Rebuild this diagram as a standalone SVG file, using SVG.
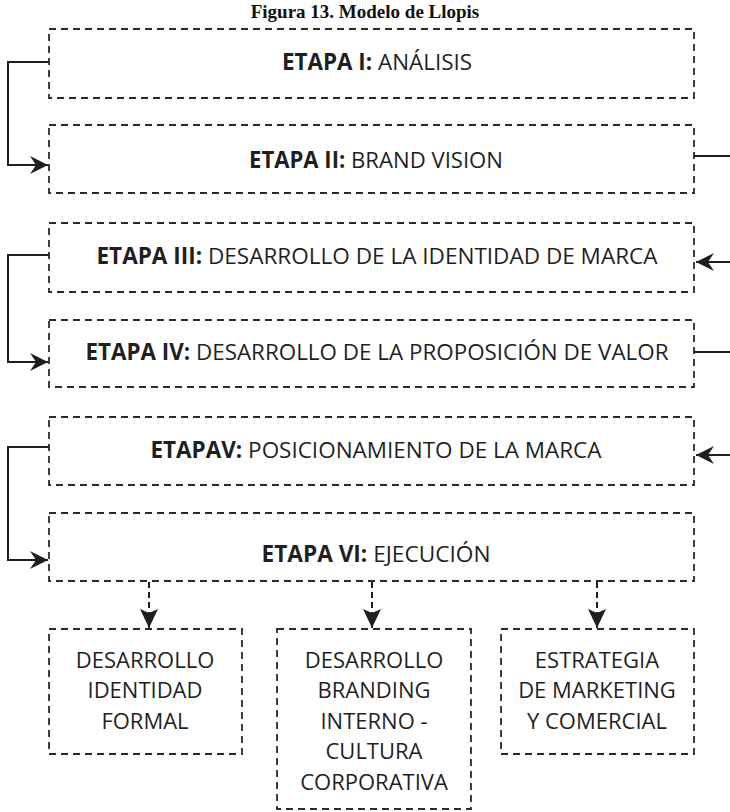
<svg xmlns="http://www.w3.org/2000/svg" width="730" height="812" viewBox="0 0 730 812">
<style>
.box{fill:none;stroke:#2a2a2a;stroke-width:1.8;stroke-dasharray:7 5}
.stage{font-family:"Open Sans","Noto Sans",sans-serif;font-size:22.5px;fill:#1f1f1f;text-anchor:middle}
.b{font-weight:700}
.sub{font-family:"Open Sans","Noto Sans",sans-serif;font-size:22px;fill:#1f1f1f;text-anchor:middle}
.title{font-family:"Liberation Serif","Times New Roman",serif;font-weight:700;font-size:19px;fill:#111;text-anchor:middle}
.solid{fill:none;stroke:#1e1e1e;stroke-width:2}
.dash{fill:none;stroke:#1e1e1e;stroke-width:2;stroke-dasharray:6 4}
</style>
<defs>
<marker id="ah" markerUnits="userSpaceOnUse" markerWidth="22" markerHeight="22" viewBox="-20 -11 22 22" refX="0" refY="0" orient="auto">
<path d="M0,0 L-18,-9 L-12,0 L-18,9 Z" fill="#1e1e1e"/>
</marker>
<marker id="dh" markerUnits="userSpaceOnUse" markerWidth="22" markerHeight="22" viewBox="-20 -11 22 22" refX="0" refY="0" orient="auto">
<path d="M0,0 L-19,-9 L-15,0 L-19,9 Z" fill="#1e1e1e"/>
</marker>
</defs>
<rect width="730" height="812" fill="#ffffff"/>
<text class="title" x="365" y="18">Figura 13. Modelo de Llopis</text>

<g id="etapa1"><rect class="box" x="49" y="29" width="645" height="69"/>
<text class="stage" x="377" y="70" textLength="190" lengthAdjust="spacingAndGlyphs"><tspan class="b">ETAPA I:</tspan> ANÁLISIS</text></g>
<g id="etapa2"><rect class="box" x="49" y="125" width="645" height="68"/>
<text class="stage" x="376" y="168" textLength="254" lengthAdjust="spacingAndGlyphs"><tspan class="b">ETAPA II:</tspan> BRAND VISION</text></g>
<g id="etapa3"><rect class="box" x="49" y="223" width="645" height="69"/>
<text class="stage" x="377" y="264" textLength="561" lengthAdjust="spacingAndGlyphs"><tspan class="b">ETAPA III:</tspan> DESARROLLO DE LA IDENTIDAD DE MARCA</text></g>
<g id="etapa4"><rect class="box" x="49" y="320" width="645" height="67"/>
<text class="stage" x="377" y="360" textLength="583" lengthAdjust="spacingAndGlyphs"><tspan class="b">ETAPA IV:</tspan> DESARROLLO DE LA PROPOSICIÓN DE VALOR</text></g>
<g id="etapa5"><rect class="box" x="49" y="417" width="645" height="68"/>
<text class="stage" x="376" y="458" textLength="451" lengthAdjust="spacingAndGlyphs"><tspan class="b">ETAPAV:</tspan> POSICIONAMIENTO DE LA MARCA</text></g>
<g id="etapa6"><rect class="box" x="49" y="513" width="645" height="68"/>
<text class="stage" x="376" y="562" textLength="229" lengthAdjust="spacingAndGlyphs"><tspan class="b">ETAPA VI:</tspan> EJECUCIÓN</text></g>

<g id="identidad"><rect class="box" x="49" y="629" width="193" height="125"/>
<text class="sub" x="145" y="668">DESARROLLO</text>
<text class="sub" x="145" y="698">IDENTIDAD</text>
<text class="sub" x="145" y="729">FORMAL</text></g>
<g id="branding"><rect class="box" x="277" y="629" width="194" height="180"/>
<text class="sub" x="374" y="668">DESARROLLO</text>
<text class="sub" x="374" y="698">BRANDING</text>
<text class="sub" x="374" y="729">INTERNO -</text>
<text class="sub" x="374" y="759">CULTURA</text>
<text class="sub" x="374" y="790">CORPORATIVA</text></g>
<g id="marketing"><rect class="box" x="501" y="629" width="193" height="125"/>
<text class="sub" x="597" y="668">ESTRATEGIA</text>
<text class="sub" x="597" y="698">DE MARKETING</text>
<text class="sub" x="597" y="729">Y COMERCIAL</text></g>

<g id="connectors">
<path class="solid" d="M49,62 H8 V165 H48" marker-end="url(#ah)"/>
<path class="solid" d="M49,255 H8 V362 H48" marker-end="url(#ah)"/>
<path class="solid" d="M49,447 H8 V560 H48" marker-end="url(#ah)"/>
<path class="solid" d="M694,156 H730"/>
<path class="solid" d="M730,262 H696" marker-end="url(#ah)"/>
<path class="solid" d="M694,352 H730"/>
<path class="solid" d="M730,455 H696" marker-end="url(#ah)"/>
<path class="dash" d="M149,582 V628" marker-end="url(#dh)"/>
<path class="dash" d="M372,582 V628" marker-end="url(#dh)"/>
<path class="dash" d="M597,582 V628" marker-end="url(#dh)"/>
</g>
</svg>
